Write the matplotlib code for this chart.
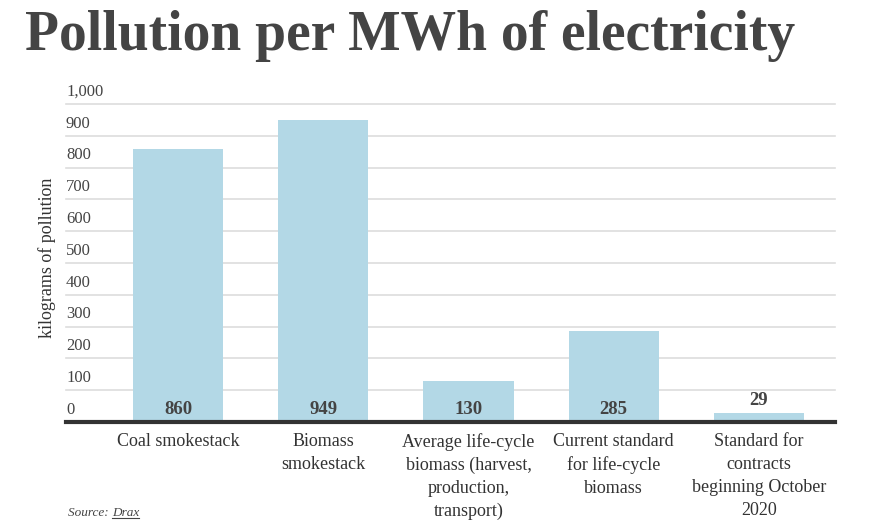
import matplotlib
matplotlib.use("Agg")
import matplotlib.pyplot as plt

categories = ["Coal smokestack", "Biomass\nsmokestack",
              "Average life-cycle\nbiomass (harvest,\nproduction,\ntransport)",
              "Current standard\nfor life-cycle\nbiomass",
              "Standard for\ncontracts\nbeginning October\n2020"]
values = [860, 949, 130, 285, 29]
yticks = [0, 100, 200, 300, 400, 500, 600, 700, 800, 900, 1000]
ytick_labels = ["0", "100", "200", "300", "400", "500", "600", "700", "800", "900", "1,000"]

W, H = 875, 532
fig = plt.figure(figsize=(W / 100, H / 100), dpi=100)
serif = ["Liberation Serif", "DejaVu Serif"]

ax_l, ax_r, ax_b, ax_t = 66, 835, 422, 104
ax = fig.add_axes([ax_l / W, 1 - ax_b / H, (ax_r - ax_l) / W, (ax_b - ax_t) / H])

x = list(range(len(values)))
ax.bar(x, values, width=0.62, color="#b3d8e6", zorder=2)
ax.set_xlim(-0.772, 4.524)
ax.set_ylim(0, 1000)

for yv in yticks[1:]:
    ax.axhline(yv, color="#dddddd", lw=1.2, zorder=1, clip_on=False)
ax.axhline(0, color="#333333", lw=3, zorder=3, clip_on=False)

for yv, lab in zip(yticks, ytick_labels):
    ax.annotate(lab, xy=(0, yv), xycoords=("axes fraction", "data"),
                xytext=(0, 3), textcoords="offset points",
                ha="left", va="bottom", fontsize=12, family=serif, color="#444444")

for xi, v in zip(x, values):
    if v > 60:
        ax.annotate(str(v), xy=(xi, 0), xytext=(0, 3), textcoords="offset points",
                    ha="center", va="bottom", fontsize=13.5, fontweight="bold",
                    family=serif, color="#444444", zorder=4)
    else:
        ax.annotate(str(v), xy=(xi, v), xytext=(0, 3), textcoords="offset points",
                    ha="center", va="bottom", fontsize=13.5, fontweight="bold",
                    family=serif, color="#444444", zorder=4)

ax.set_xticks(x)
ax.set_xticklabels(categories, fontsize=13, family=serif, color="#333333",
                   linespacing=1.45)
ax.tick_params(axis="x", length=0, pad=8)
ax.set_yticks([])
for s in ax.spines.values():
    s.set_visible(False)

ax.set_ylabel("kilograms of pollution", fontsize=13, family=serif, color="#333333")
ax.yaxis.set_label_coords(-0.013, 0.516)

fig.text(25 / W, 1 - 50 / H, "Pollution per MWh of electricity", fontsize=40,
         fontweight="bold", family=serif, color="#444444", ha="left", va="baseline")

t = fig.text(68 / W, 1 - 513 / H, "Source: ", fontsize=9.5, style="italic",
             family=serif, color="#444444", ha="left", va="center")
fig.canvas.draw()
bb = t.get_window_extent()
t2 = fig.text(bb.x1 / W, 1 - 513 / H, "Drax", fontsize=9.5, style="italic",
              family=serif, color="#444444", ha="left", va="center")
bb2 = t2.get_window_extent()
fig.add_artist(plt.Line2D([bb2.x0 / W, bb2.x1 / W], [(bb2.y0 + 1) / H] * 2,
                          color="#444444", lw=0.8))

fig.savefig("out.png", dpi=100, facecolor="white")
